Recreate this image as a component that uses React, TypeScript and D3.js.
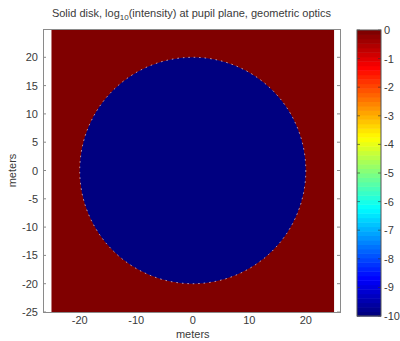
import React from 'react';
import * as d3 from 'd3';

// Field parameters (log10 intensity at the pupil plane)
const gridExtent = [-25, 25];
const diskRadius = [20];
const openValue = [0];
const blockedValue = [-10];

// Axis ticks
const xTicks = [-20, -10, 0, 10, 20];
const yTicks = [20, 15, 10, 5, 0, -5, -10, -15, -20, -25];
const colorTicks = [0, -1, -2, -3, -4, -5, -6, -7, -8, -9, -10];
const colorLimits = [-10, 0];

const W = 400;
const H = 341;
const FONT = 'Liberation Sans, Arial, Helvetica, sans-serif';
const TEXT = '#3a3a3a';
const AXIS = '#8a8a8a';

// MATLAB-style jet colormap
function jet(t: number): string {
  const c = (v: number) => Math.max(0, Math.min(1, v));
  const r = c(1.5 - Math.abs(4 * t - 3));
  const g = c(1.5 - Math.abs(4 * t - 2));
  const b = c(1.5 - Math.abs(4 * t - 1));
  return d3.rgb(r * 255, g * 255, b * 255).formatHex();
}

export default function App() {
  const plot = { left: 43, right: 340, top: 29, bottom: 312 };
  const x = d3.scaleLinear().domain([-26.5, 26.05]).range([plot.left, plot.right]);
  const y = d3.scaleLinear().domain([-25, 25]).range([plot.bottom, plot.top]);

  const cb = { left: 357, right: 381, top: 30, bottom: 316 };
  const cy = d3.scaleLinear().domain(colorLimits).range([cb.bottom, cb.top]);
  const cnorm = d3.scaleLinear().domain(colorLimits).range([0, 1]).clamp(true);
  const color = (v: number) => jet(cnorm(v));

  const nLevels = 64;
  const levels = d3.range(nLevels);
  const levelH = (cb.bottom - cb.top) / nLevels;

  const r = diskRadius[0];
  const rx = x(r) - x(0);
  const ry = y(0) - y(r);

  return (
    <svg width={W} height={H} style={{ position: 'absolute', left: 0, top: 0, background: '#fff' }}>
      {/* ticks sit beneath the image layer */}
      <g stroke={AXIS} strokeWidth={1}>
        {xTicks.map((t) => (
          <g key={'xt' + t}>
            <line x1={x(t)} x2={x(t)} y1={plot.bottom} y2={plot.bottom - 3} />
            <line x1={x(t)} x2={x(t)} y1={plot.top} y2={plot.top + 3} />
          </g>
        ))}
        {yTicks.map((t) => (
          <g key={'yt' + t}>
            <line x1={plot.left} x2={plot.left + 3} y1={y(t)} y2={y(t)} />
            <line x1={plot.right} x2={plot.right - 3} y1={y(t)} y2={y(t)} />
          </g>
        ))}
      </g>

      {/* field image */}
      <rect
        x={x(gridExtent[0])}
        y={y(gridExtent[1])}
        width={x(gridExtent[1]) - x(gridExtent[0])}
        height={y(gridExtent[0]) - y(gridExtent[1])}
        fill={color(openValue[0])}
      />
      <ellipse cx={x(0)} cy={y(0)} rx={rx} ry={ry} fill={color(blockedValue[0])} />
      <ellipse
        cx={x(0)}
        cy={y(0)}
        rx={rx}
        ry={ry}
        fill="none"
        stroke="#ffffff"
        strokeOpacity={0.65}
        strokeWidth={1}
        strokeDasharray="1.5 4"
      />

      {/* axes box */}
      <rect
        x={plot.left + 0.5}
        y={plot.top + 0.5}
        width={plot.right - plot.left}
        height={plot.bottom - plot.top}
        fill="none"
        stroke={AXIS}
        strokeWidth={1}
      />

      <g fontFamily={FONT} fontSize={11} fill={TEXT}>
        {xTicks.map((t) => (
          <text key={'xl' + t} x={x(t)} y={plot.bottom + 12} textAnchor="middle">
            {t}
          </text>
        ))}
        {yTicks.map((t) => (
          <text key={'yl' + t} x={plot.left - 5} y={y(t) + 4} textAnchor="end">
            {t}
          </text>
        ))}
        <text x={x(0)} y={338} textAnchor="middle">meters</text>
        <text transform={`translate(16, ${y(0)}) rotate(-90)`} textAnchor="middle">meters</text>
        <text x={(plot.left + plot.right) / 2} y={17} textAnchor="middle">
          Solid disk, log
          <tspan fontSize={8} dy={3}>10</tspan>
          <tspan dy={-3}>(intensity) at pupil plane, geometric optics</tspan>
        </text>
      </g>

      {/* colorbar */}
      <g>
        {levels.map((i) => (
          <rect
            key={'c' + i}
            x={cb.left}
            y={cb.bottom - (i + 1) * levelH}
            width={cb.right - cb.left}
            height={levelH + 0.5}
            fill={jet(i / (nLevels - 1))}
          />
        ))}
        <g stroke="#333" strokeWidth={1} strokeOpacity={0.6}>
          {colorTicks.map((t) => (
            <g key={'ct' + t}>
              <line x1={cb.left} x2={cb.left + 3} y1={cy(t)} y2={cy(t)} />
              <line x1={cb.right} x2={cb.right - 3} y1={cy(t)} y2={cy(t)} />
            </g>
          ))}
        </g>
        <rect
          x={cb.left}
          y={cb.top}
          width={cb.right - cb.left}
          height={cb.bottom - cb.top}
          fill="none"
          stroke="#555"
          strokeWidth={1}
        />
        <g fontFamily={FONT} fontSize={11} fill={TEXT}>
          {colorTicks.map((t) => (
            <text key={'cl' + t} x={cb.right + 3} y={cy(t) + 4} textAnchor="start">
              {t}
            </text>
          ))}
        </g>
      </g>
    </svg>
  );
}
